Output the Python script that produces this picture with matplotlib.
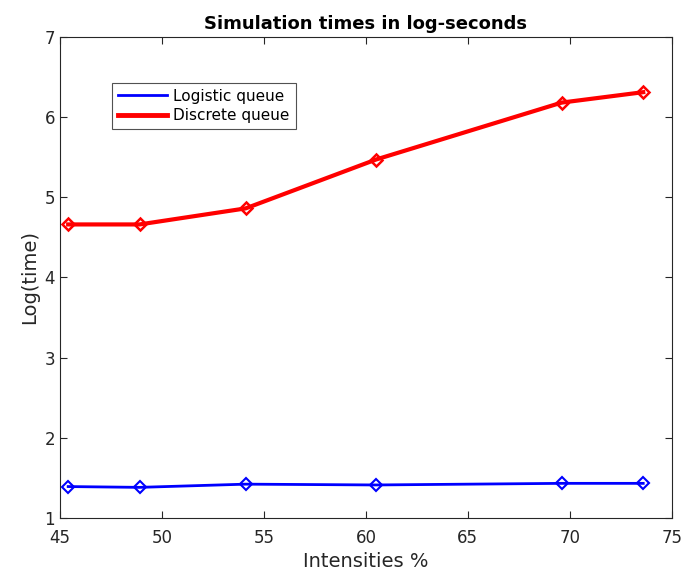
import matplotlib
matplotlib.use('Agg')
import matplotlib.pyplot as plt
from matplotlib.lines import Line2D

intensities = [45.4, 48.9, 54.1, 60.5, 69.6, 73.6]
logistic = [1.39, 1.38, 1.42, 1.41, 1.43, 1.43]
discrete = [4.66, 4.66, 4.86, 5.47, 6.18, 6.31]

fig = plt.figure(figsize=(6.82, 5.76), dpi=100)
ax = fig.add_axes([0.088, 0.101, 0.897, 0.835])

ax.plot(intensities, logistic, color='blue', linewidth=2, marker='D',
        markersize=6, markerfacecolor='none', markeredgewidth=1.5)
ax.plot(intensities, discrete, color='red', linewidth=3, marker='D',
        markersize=6, markerfacecolor='none', markeredgewidth=1.8)

ax.set_xlim(45, 75)
ax.set_ylim(1, 7)
ax.set_xticks(range(45, 76, 5))
ax.set_yticks(range(1, 8))
ax.tick_params(direction='in', top=True, right=True, labelsize=12, colors='#262626', length=5)
ax.tick_params(axis='x', pad=8)
for s in ax.spines.values():
    s.set_color('#262626')
    s.set_linewidth(0.8)

ax.set_xlabel('Intensities %', fontsize=14, color='#262626')
ax.set_ylabel('Log(time)', fontsize=14, color='#262626')
ax.set_title('Simulation times in log-seconds', fontsize=13, fontweight='bold')

# legend shows plain lines only
handles = [Line2D([], [], color='blue', linewidth=2),
           Line2D([], [], color='red', linewidth=3.5)]
leg = ax.legend(handles, ['Logistic queue', 'Discrete queue'], loc='upper left',
                bbox_to_anchor=(0.085, 0.905), fancybox=False, edgecolor='#262626',
                fontsize=11, handlelength=3.2, handletextpad=0.4, borderpad=0.4,
                labelspacing=0.3, borderaxespad=0)
leg.get_frame().set_linewidth(0.8)

fig.savefig('out.png', dpi=100)
